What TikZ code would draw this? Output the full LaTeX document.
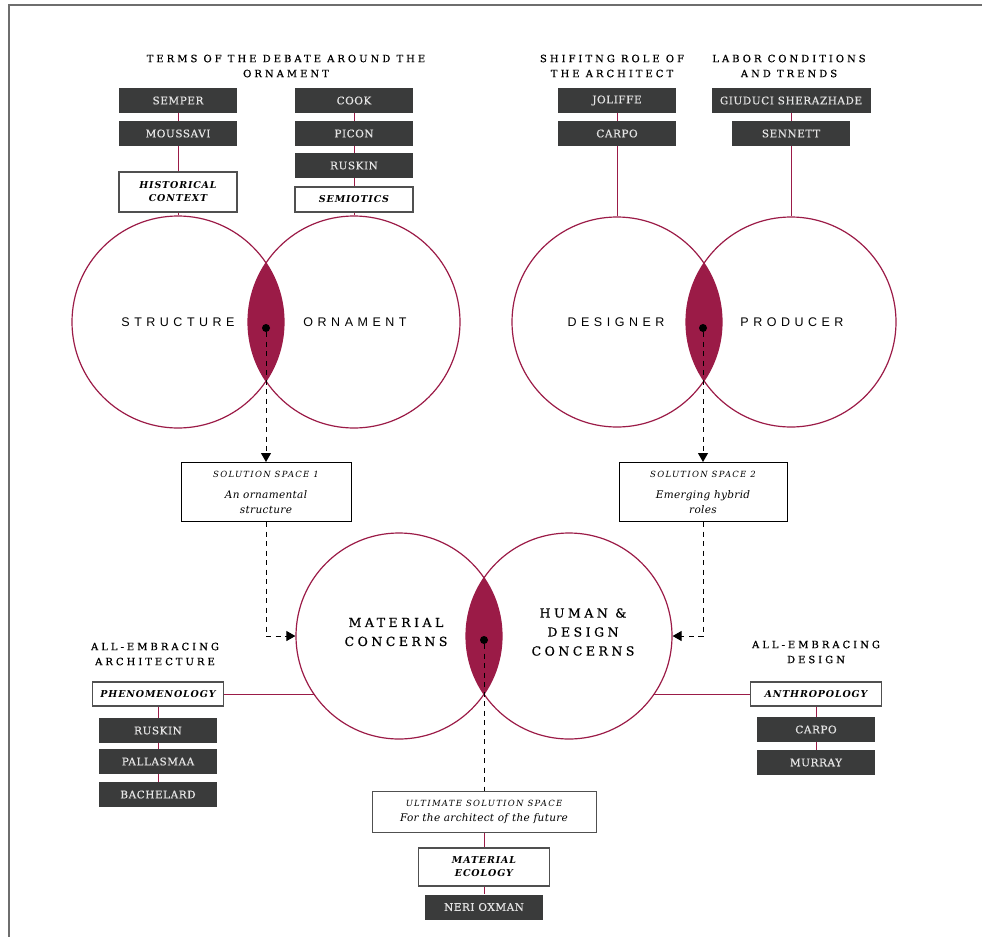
\documentclass[tikz,border=0pt]{standalone}
\usepackage{fontspec}
\setmainfont{DejaVu Serif}
\newfontfamily\headfont[LetterSpace=30,FakeBold=0.6]{DejaVu Serif}
\newfontfamily\boxfont[LetterSpace=5,FakeBold=0.4]{DejaVu Serif}
\newfontfamily\tagfont[LetterSpace=9]{DejaVu Serif}
\newfontfamily\solfont[LetterSpace=15]{DejaVu Serif}
\newfontfamily\solbodyfont[LetterSpace=3]{DejaVu Serif}
\newfontfamily\bigsansfont[LetterSpace=36]{Liberation Sans}
\newfontfamily\bigseriffont[LetterSpace=28,FakeBold=0.5]{DejaVu Serif}
\usetikzlibrary{arrows.meta}

\definecolor{crimson}{HTML}{9B1B47}
\definecolor{boxdark}{HTML}{3A3B3B}
\definecolor{boxtext}{HTML}{E4E4E4}
\definecolor{boxline}{HTML}{505050}
\definecolor{framegray}{HTML}{6E6E6E}

\begin{document}
\begin{tikzpicture}[x=1pt,y=-1pt,
  heading/.style={align=center, inner sep=0pt, font=\headfont\fontsize{10}{15}\selectfont},
  darkbox/.style={fill=boxdark, text=boxtext, minimum width=118pt, minimum height=25pt,
    inner sep=0pt, font=\boxfont\fontsize{10.5}{12}\selectfont},
  tagbox/.style={draw=boxline, line width=1.3pt, fill=white, minimum width=118pt,
    minimum height=25pt, inner sep=0pt, align=center,
    font=\tagfont\bfseries\itshape\fontsize{9.5}{13}\selectfont},
  solbox/.style={draw=black, line width=1pt, fill=white, inner sep=0pt, align=center,
    font=\solbodyfont\itshape\fontsize{10.5}{15}\selectfont},
  vcirc/.style={circle, draw=crimson, line width=1.2pt, minimum size=#1, inner sep=0pt},
  dotn/.style={circle, fill=black, minimum size=8pt, inner sep=0pt},
  link/.style={draw=crimson, line width=1pt},
  dashlink/.style={draw=black, line width=1pt, dash pattern=on 5pt off 4.5pt},
  tip/.style={-{Triangle[width=10pt,length=9pt]}},
  bigsans/.style={inner sep=0pt, font=\bigsansfont\fontsize{12.5}{15}\selectfont},
  bigserif/.style={inner sep=0pt, align=center, font=\bigseriffont\fontsize{12.5}{19}\selectfont}]

\useasboundingbox (0,0) rectangle (982,937);

% page frame
\draw[framegray, line width=1.5pt] (982,5) -- (9,5) -- (9,937);

% ---------- headings ----------
\node[heading] (hA) at (286,66) {TERMS OF THE DEBATE AROUND THE\\ORNAMENT};
\node[heading] (hB) at (612,66) {SHIFITNG ROLE OF\\THE ARCHITECT};
\node[heading] (hC) at (789,66) {LABOR CONDITIONS\\AND TRENDS};
\node[heading] (hD) at (155,654) {ALL-EMBRACING\\ARCHITECTURE};
\node[heading] (hE) at (816,652) {ALL-EMBRACING\\DESIGN};

% ---------- first pair: structure / ornament ----------
\begin{scope}
  \clip (178,322) circle[radius=106];
  \fill[crimson] (354,322) circle[radius=106];
\end{scope}
\node[vcirc=212pt] (strc) at (178,322) {};
\node[vcirc=212pt] (ornc) at (354,322) {};
\node[bigsans] (tStr) at (178,322) {STRUCTURE};
\node[bigsans] (tOrn) at (355,322) {ORNAMENT};
\node[dotn] (dot1) at (266,328) {};

\node[darkbox] (semper) at (178,100.5) {SEMPER};
\node[darkbox] (moussavi) at (178,133.5) {MOUSSAVI};
\node[tagbox, minimum height=40pt] (hist) at (178,192) {HISTORICAL\\CONTEXT};
\draw[link] (semper.south) -- (moussavi.north);
\draw[link] (moussavi.south) -- (hist.north);
\draw[link] (hist.south) -- (strc.north);

\node[darkbox] (cook) at (354,100.5) {COOK};
\node[darkbox] (picon) at (354,133.5) {PICON};
\node[darkbox] (ruskinA) at (354,165.5) {RUSKIN};
\node[tagbox] (semio) at (354,199.5) {SEMIOTICS};
\draw[link] (cook.south) -- (picon.north);
\draw[link] (picon.south) -- (ruskinA.north);
\draw[link] (ruskinA.south) -- (semio.north);
\draw[link] (semio.south) -- (ornc.north);

% ---------- second pair: designer / producer ----------
\begin{scope}
  \clip (617,322) circle[radius=105];
  \fill[crimson] (791,322) circle[radius=105];
\end{scope}
\node[vcirc=210pt] (desc) at (617,322) {};
\node[vcirc=210pt] (proc) at (791,322) {};
\node[bigsans] (tDes) at (616,322) {DESIGNER};
\node[bigsans] (tPro) at (792,322) {PRODUCER};
\node[dotn] (dot2) at (703,328) {};

\node[darkbox] (joliffe) at (617,100.5) {JOLIFFE};
\node[darkbox] (carpoA) at (617,133.5) {CARPO};
\draw[link] (joliffe.south) -- (carpoA.north);
\draw[link] (carpoA.south) -- (desc.north);

\node[darkbox, minimum width=159pt] (giuduci) at (791,100.5) {GIUDUCI SHERAZHADE};
\node[darkbox] (sennett) at (791,133.5) {SENNETT};
\draw[link] (giuduci.south) -- (sennett.north);
\draw[link] (sennett.south) -- (proc.north);

% ---------- solution spaces ----------
\node[solbox, minimum width=170pt, minimum height=59pt] (sol1) at (266,492)
  {{\solfont\fontsize{8.5}{10}\selectfont SOLUTION SPACE 1}\\[6pt]An ornamental\\structure};
\node[solbox, minimum width=168pt, minimum height=59pt] (sol2) at (703,492)
  {{\solfont\fontsize{8.5}{10}\selectfont SOLUTION SPACE 2}\\[6pt]Emerging hybrid\\roles};
\draw[dashlink, tip] (dot1) -- (sol1.north);
\draw[dashlink, tip] (dot2) -- (sol2.north);

% ---------- third pair: material / human & design ----------
\begin{scope}
  \clip (399,636) circle[radius=103];
  \fill[crimson] (569,636) circle[radius=103];
\end{scope}
\node[vcirc=206pt] (matc) at (399,636) {};
\node[vcirc=206pt] (humc) at (569,636) {};
\node[bigserif] (tMat) at (396,632) {MATERIAL\\CONCERNS};
\node[bigserif] (tHum) at (583,632) {HUMAN \&\\DESIGN\\CONCERNS};
\node[dotn] (dot3) at (484,640) {};

\draw[dashlink, tip] (sol1.south) |- (matc.west);
\draw[dashlink, tip] (sol2.south) |- (humc.east);

% ---------- left branch ----------
\node[tagbox, minimum width=131pt, minimum height=24pt] (phen) at (158,694) {PHENOMENOLOGY};
\coordinate (phenhit) at (314,694);
\draw[link] (phen.east) -- (phenhit);
\node[darkbox] (ruskinB) at (158,730.5) {RUSKIN};
\node[darkbox] (pallasmaa) at (158,761.5) {PALLASMAA};
\node[darkbox] (bachelard) at (158,794.5) {BACHELARD};
\draw[link] (phen.south) -- (ruskinB.north);
\draw[link] (ruskinB.south) -- (pallasmaa.north);
\draw[link] (pallasmaa.south) -- (bachelard.north);

% ---------- right branch ----------
\node[tagbox, minimum width=131pt, minimum height=24pt] (anthro) at (816,694) {ANTHROPOLOGY};
\coordinate (anthrohit) at (654,694);
\draw[link] (anthro.west) -- (anthrohit);
\node[darkbox] (carpoB) at (816,729.5) {CARPO};
\node[darkbox] (murray) at (816,762.5) {MURRAY};
\draw[link] (anthro.south) -- (carpoB.north);
\draw[link] (carpoB.south) -- (murray.north);

% ---------- ultimate solution space ----------
\node[solbox, draw=boxline, minimum width=224pt, minimum height=41pt] (ult) at (484,811.5)
  {{\solfont\fontsize{8.5}{10}\selectfont ULTIMATE SOLUTION SPACE}\\For the architect of the future};
\draw[dashlink] (dot3) -- (ult.north);
\node[tagbox, minimum width=131pt, minimum height=38pt] (ecol) at (484,867) {MATERIAL\\ECOLOGY};
\node[darkbox] (neri) at (484,907) {NERI OXMAN};
\draw[link] (ult.south) -- (ecol.north);
\draw[link] (ecol.south) -- (neri.north);

\end{tikzpicture}
\end{document}
